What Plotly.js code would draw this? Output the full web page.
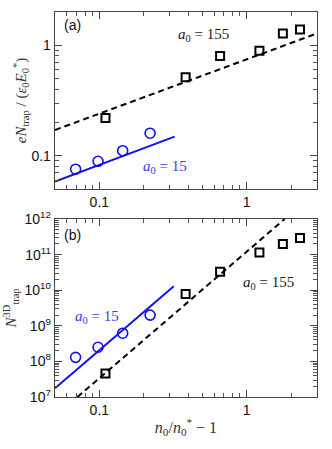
<!DOCTYPE html>
<html>
<head>
<meta charset="utf-8">
<script src="https://cdn.plot.ly/plotly-3.0.1.min.js"></script>
<style>
  html, body { margin: 0; padding: 0; background: #fff; }
  #chart { width: 332px; height: 449px; }
</style>
</head>
<body>
<div id="chart"></div>
<script>
// (a) densidad de carga atrapada, (b) número total de partículas atrapadas
const xCuadros = [0.11, 0.385, 0.66, 1.22, 1.76, 2.3];
const xCirculos = [0.069, 0.098, 0.144, 0.221];

const yCuadrosA = [0.22, 0.513, 0.80, 0.89, 1.28, 1.39];
const yCirculosA = [0.0755, 0.089, 0.111, 0.16];
const xAjusteAzulA = [0.05, 0.324];
const yAjusteAzulA = [0.0585, 0.149];
const xAjusteNegroA = [0.05, 3];
const yAjusteNegroA = [0.171, 1.28];

const yCuadrosB = [4.6e7, 7.8e9, 3.3e10, 1.15e11, 2.0e11, 2.95e11];
const yCirculosB = [1.3e8, 2.5e8, 6.2e8, 2.0e9];
const xAjusteAzulB = [0.05, 0.32];
const yAjusteAzulB = [1.75e7, 1.3e10];
const xAjusteNegroB = [0.071, 1.81];
const yAjusteNegroB = [1e7, 1e12];

const ticksX = [0.1, 1];
const etiquetasX = ['0.1', '1'];
const ticksYA = [0.1, 1];
const etiquetasYA = ['0.1', '1'];
const ticksYB = [1e7, 1e8, 1e9, 1e10, 1e11, 1e12];
const etiquetasYB = ['10<sup>7</sup>', '10<sup>8</sup>', '10<sup>9</sup>', '10<sup>10</sup>', '10<sup>11</sup>', '10<sup>12</sup>'];

// ticks menores de cada década
function menores(desde, hasta) {
  const out = [];
  for (let e = desde; e < hasta; e++) {
    for (let m = 2; m <= 9; m++) out.push(m * Math.pow(10, e));
  }
  return out;
}
const menoresX = [0.06, 0.07, 0.08, 0.09].concat(menores(-1, 0), [2, 3]);
const menoresYA = [0.06, 0.07, 0.08, 0.09].concat(menores(-1, 0), [2]);
const menoresYB = menores(7, 12);

const NEGRO = '#000000';
const AZUL = '#1010f0';
const SERIF = 'Liberation Serif, serif';
const SANS = 'Liberation Sans, Arial, sans-serif';

function ejeBase(menoresVals) {
  return {
    type: 'log',
    showgrid: false,
    zeroline: false,
    showline: true,
    linecolor: '#444',
    linewidth: 1.3,
    mirror: 'allticks',
    ticks: 'inside',
    ticklen: 7,
    tickwidth: 1,
    tickcolor: '#444',
    tickfont: { family: SANS, size: 14, color: '#111' },
    minor: { ticks: 'inside', ticklen: 4, tickwidth: 1, tickcolor: '#555', showgrid: false, tickvals: menoresVals },
  };
}

const cuadro = { symbol: 'square-open', size: 8, color: NEGRO, line: { width: 2, color: NEGRO } };
const circulo = { symbol: 'circle-open', size: 10, color: AZUL, line: { width: 1.6, color: AZUL } };

const datos = [
  { x: xAjusteNegroA, y: yAjusteNegroA, mode: 'lines', line: { color: NEGRO, width: 2, dash: '6px,4px' }, xaxis: 'x', yaxis: 'y' },
  { x: xAjusteAzulA, y: yAjusteAzulA, mode: 'lines', line: { color: AZUL, width: 2 }, xaxis: 'x', yaxis: 'y' },
  { x: xCuadros, y: yCuadrosA, mode: 'markers', marker: cuadro, xaxis: 'x', yaxis: 'y' },
  { x: xCirculos, y: yCirculosA, mode: 'markers', marker: circulo, xaxis: 'x', yaxis: 'y' },
  { x: xAjusteNegroB, y: yAjusteNegroB, mode: 'lines', line: { color: NEGRO, width: 2, dash: '6px,4px' }, xaxis: 'x2', yaxis: 'y2' },
  { x: xAjusteAzulB, y: yAjusteAzulB, mode: 'lines', line: { color: AZUL, width: 2 }, xaxis: 'x2', yaxis: 'y2' },
  { x: xCuadros, y: yCuadrosB, mode: 'markers', marker: cuadro, xaxis: 'x2', yaxis: 'y2' },
  { x: xCirculos, y: yCirculosB, mode: 'markers', marker: circulo, xaxis: 'x2', yaxis: 'y2' },
];

const rangoX = [Math.log10(0.05), Math.log10(3)];

function nota(texto, x, y, fuente, tam, color) {
  return {
    text: texto, x: x, y: y, xref: 'paper', yref: 'paper',
    xanchor: 'center', yanchor: 'middle', showarrow: false,
    font: { family: fuente, size: tam, color: color },
  };
}

const layout = {
  width: 332,
  height: 449,
  margin: { l: 55, r: 15, t: 12, b: 52 },
  paper_bgcolor: '#fff',
  plot_bgcolor: '#fff',
  showlegend: false,
  xaxis: Object.assign(ejeBase(menoresX), {
    domain: [0, 1], anchor: 'y', range: rangoX,
    tickvals: ticksX, ticktext: etiquetasX,
  }),
  yaxis: Object.assign(ejeBase(menoresYA), {
    domain: [0.5403, 1], anchor: 'x', range: [Math.log10(0.05), Math.log10(2)],
    tickvals: ticksYA, ticktext: etiquetasYA,
    title: {
      text: '<i>eN</i><sub>trap</sub> / (<i>ε</i><sub>0</sub><i>E</i><sub>0</sub><sup>*</sup>)',
      font: { family: SERIF, size: 15, color: '#333' },
      standoff: 1,
    },
  }),
  xaxis2: Object.assign(ejeBase(menoresX), {
    domain: [0, 1], anchor: 'y2', range: rangoX,
    tickvals: ticksX, ticktext: etiquetasX,
    title: {
      text: '<i>n</i><sub>0</sub>/<i>n</i><sub>0</sub><sup>*</sup> − 1',
      font: { family: SERIF, size: 16, color: '#333' },
      standoff: 4,
    },
  }),
  yaxis2: Object.assign(ejeBase(menoresYB), {
    domain: [0, 0.4623], anchor: 'x2', range: [7, 12],
    tickvals: ticksYB, ticktext: etiquetasYB,
    title: {
      text: '<i>N</i><sup>3D</sup><sub>trap</sub>',
      font: { family: SERIF, size: 15, color: '#333' },
      standoff: 4,
    },
  }),
  annotations: [
    nota('(a)', 0.065, 0.966, SANS, 14, '#111'),
    nota('(b)', 0.065, 0.421, SANS, 14, '#111'),
    nota('<i>a</i><sub>0</sub> = 155', 0.565, 0.94, SERIF, 15, '#222'),
    nota('<i>a</i><sub>0</sub> = 15', 0.42, 0.598, SERIF, 15, '#3a3aee'),
    nota('<i>a</i><sub>0</sub> = 155', 0.813, 0.295, SERIF, 15, '#222'),
    nota('<i>a</i><sub>0</sub> = 15', 0.16, 0.209, SERIF, 15, '#3a3aee'),
  ],
};

Plotly.newPlot('chart', datos, layout, { displayModeBar: false, staticPlot: true });
</script>
</body>
</html>
